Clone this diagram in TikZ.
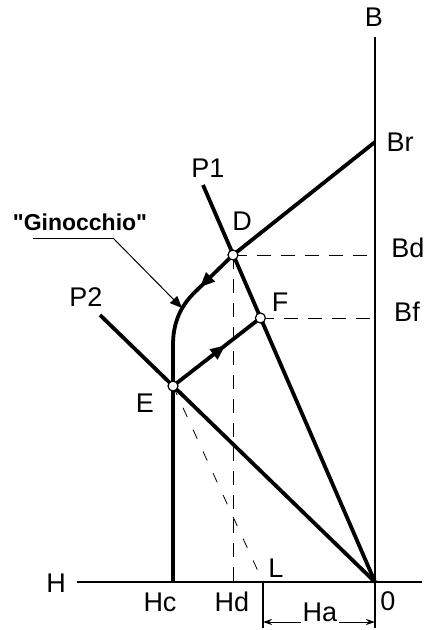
\documentclass[tikz,border=0pt]{standalone}
\usepackage{fontspec}
\setmainfont{Liberation Sans}
\newfontfamily\gfont{Liberation Sans}
\usetikzlibrary{arrows.meta,decorations.markings}
\tikzset{
  thickln/.style={line width=3.8pt},
  axisln/.style={line width=1.5pt},
  dashln/.style={line width=1pt, dash pattern=on 14pt off 10pt},
  finedash/.style={line width=0.8pt, dash pattern=on 10pt off 14pt},
  lbl/.style={font=\fontsize{27}{27}\selectfont, inner sep=0pt},
  dot/.style={circle, draw, fill=white, inner sep=0pt, minimum size=10pt, line width=1.2pt},
  midarrow/.style={postaction=decorate, decoration={markings, mark=at position #1 with {\arrow{Triangle[length=15pt,width=12pt]}}}},
}
\begin{document}
\begin{tikzpicture}[x=1pt,y=-1pt]
\useasboundingbox (0,0) rectangle (429,630);
% key points
\coordinate (O) at (375,582);
\coordinate (Btop) at (375,37);
\coordinate (Bbot) at (375,628);
\coordinate (Hleft) at (77,582);
\coordinate (Hright) at (422,582);
\coordinate (Br) at (375,142);
\coordinate (Bd) at (375,255);
\coordinate (Bf) at (375,318);
\coordinate (D) at (233,255);
\coordinate (F) at (260.4,318);
\coordinate (E) at (173,386);
\coordinate (P1e) at (203,185);
\coordinate (P2e) at (100,315);
\coordinate (K1) at (194,293);
\coordinate (K2) at (173,345);
\coordinate (Hc) at (173,582);
\coordinate (Hd) at (233,582);
\coordinate (L) at (263,582);
\coordinate (Lb) at (263,628);
\coordinate (HaL) at (263,622);
\coordinate (HaR) at (375,622);
\coordinate (U1) at (33,238);
\coordinate (U2) at (113,238);
\coordinate (Gtip) at (182,308);
% axes
\draw[axisln] (Btop) -- (Bbot);
\draw[axisln] (Hleft) -- (Hright);
\draw[line width=1.2pt] (L) -- (Lb);
% dashed
\draw[dashln] (D) -- (Bd);
\draw[dashln] (F) -- (Bf);
\draw[dashln] (D) -- (Hd);
\draw[finedash] (E) -- (L);
% thick lines
\draw[thickln] (P1e) -- (O);
\draw[thickln] (P2e) -- (O);
\draw[thickln] (D) -- (Br);
\draw[thickln, midarrow=0.6] (E) -- (F);
\draw[thickln, midarrow=0.85] (D) -- (K1);
\draw[thickln] (K1) .. controls (181,306) and (173,322) .. (K2) -- (Hc);
% Ginocchio leader
\draw[line width=1pt] (U1) -- (U2);
\draw[line width=1pt, -{Triangle[length=12pt,width=10pt]}] (U2) -- (Gtip);
% dimension Ha
\node[lbl] (tHa) at (320,612) {Ha};
\coordinate (HaTL) at (tHa.west |- HaL);
\coordinate (HaTR) at (tHa.east |- HaR);
\draw[line width=1pt, -{Stealth[length=9pt,width=6pt]}] ([xshift=-2pt]HaTL) -- (HaL);
\draw[line width=1pt, -{Stealth[length=9pt,width=6pt]}] ([xshift=2pt]HaTR) -- (HaR);
% points
\node[dot] (cD) at (D) {};
\node[dot] (cF) at (F) {};
\node[dot] (cE) at (E) {};
% labels
\node[lbl] (tB) at (374,17) {B};
\node[lbl] (tBr) at (400,142) {Br};
\node[lbl] (tBd) at (408,248) {Bd};
\node[lbl] (tBf) at (407,312) {Bf};
\node[lbl] (tP1) at (208,168) {P1};
\node[lbl] (tP2) at (86,297) {P2};
\node[lbl] (tD) at (242,221) {D};
\node[lbl] (tF) at (280,302) {F};
\node[lbl] (tE) at (145,403) {E};
\node[lbl, font=\fontsize{23}{23}\selectfont\gfont\bfseries] (tG) at (80,222) {"Ginocchio"};
\node[lbl] (tH) at (56,583) {H};
\node[lbl] (tHc) at (160,602) {Hc};
\node[lbl] (tHd) at (232,602) {Hd};
\node[lbl] (tL) at (276,568) {L};
\node[lbl] (t0) at (388,601) {0};
\end{tikzpicture}
\end{document}
